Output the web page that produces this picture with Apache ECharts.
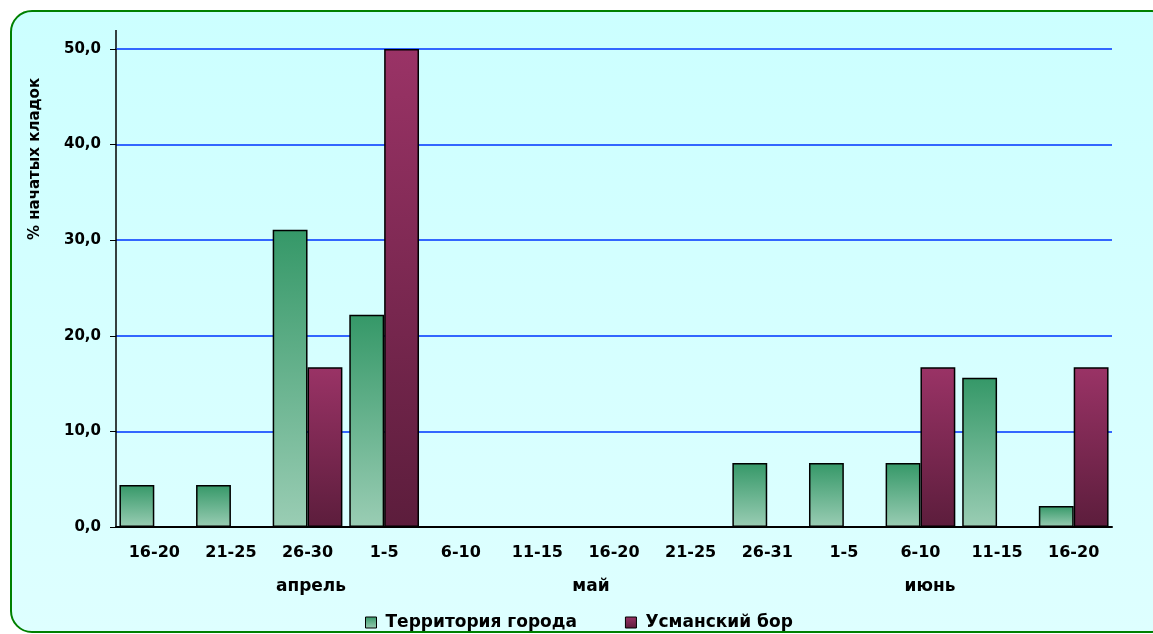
<!DOCTYPE html>
<html>
<head>
<meta charset="utf-8">
<script src="https://cdn.jsdelivr.net/npm/echarts@6/dist/echarts.min.js"></script>
<style>
  html, body { margin: 0; padding: 0; width: 1153px; height: 634px; overflow: hidden; background: #ffffff; }
  #frame { position: absolute; left: 10px; top: 10px; width: 1160px; height: 619px; border: 2px solid #008000; border-radius: 22px;
           background: linear-gradient(to bottom, #CCFFFF 0%, #DEFFFF 100%); }
  #chart { position: absolute; left: 0; top: 0; width: 1153px; height: 634px; }
</style>
</head>
<body>
<div id="frame"></div>
<div id="chart"></div>
<script>
const categories = ['16-20', '21-25', '26-30', '1-5', '6-10', '11-15', '16-20', '21-25', '26-31', '1-5', '6-10', '11-15', '16-20'];
const months = ['апрель', 'май', 'июнь'];
const seriesNames = ['Территория города', 'Усманский бор'];
const cityValues = [4.4, 4.4, 31.1, 22.2, 0, 0, 0, 0, 6.7, 6.7, 6.7, 15.6, 2.2];
const borValues = [0, 0, 16.7, 50.0, 0, 0, 0, 0, 0, 0, 16.7, 0, 16.7];
const yTicks = { min: 0, max: 50, interval: 10 };
const yAxisTitle = '% начатых кладок';

const font = '"DejaVu Sans", Verdana, sans-serif';
const chart = echarts.init(document.getElementById('chart'), null, { renderer: 'canvas' });

const greenGrad = new echarts.graphic.LinearGradient(0, 0, 0, 1, [
  { offset: 0, color: '#359868' }, { offset: 1, color: '#9ACDB4' }
]);
const purpleGrad = new echarts.graphic.LinearGradient(0, 0, 0, 1, [
  { offset: 0, color: '#9A3366' }, { offset: 1, color: '#5C1D3C' }
]);

const monthPos = [311, 591, 930];

chart.setOption({
  backgroundColor: 'transparent',
  animation: false,
  textStyle: { fontFamily: font },
  grid: { left: 116, right: 41, top: 49, bottom: 107 },
  legend: {
    data: seriesNames,
    left: 360, top: 609,
    icon: 'rect', itemWidth: 11, itemHeight: 11, itemGap: 48,
    textStyle: { fontFamily: font, fontWeight: 'bold', fontSize: 17, color: '#000', padding: [0, 0, 0, 4] },
    itemStyle: { borderColor: '#000', borderWidth: 1 }
  },
  xAxis: {
    type: 'category',
    data: categories,
    axisLine: { lineStyle: { color: '#000', width: 2 } },
    axisTick: { length: 8, lineStyle: { color: '#000', width: 1.5 } },
    axisLabel: { margin: 18, fontFamily: font, fontWeight: 'bold', fontSize: 16, color: '#000', interval: 0 }
  },
  yAxis: {
    type: 'value',
    min: yTicks.min, max: yTicks.max, interval: yTicks.interval,
    axisLine: { show: true, lineStyle: { color: '#000', width: 1.5 } },
    axisTick: { show: true, length: 6, lineStyle: { color: '#000', width: 1 } },
    axisLabel: { margin: 15, fontFamily: font, fontWeight: 'bold', fontSize: 15, color: '#000',
                 formatter: v => v.toFixed(1).replace('.', ',') },
    splitLine: { show: true, lineStyle: { color: '#3366FF', width: 2 } }
  },
  series: [
    { name: seriesNames[0], type: 'bar', data: cityValues, barGap: '0%', barCategoryGap: '9%',
      itemStyle: { color: greenGrad, borderColor: '#000', borderWidth: 1.5 } },
    { name: seriesNames[1], type: 'bar', data: borValues, barGap: '0%', barCategoryGap: '9%',
      itemStyle: { color: purpleGrad, borderColor: '#000', borderWidth: 1.5 } }
  ],
  graphic: [
    { type: 'line', shape: { x1: 116, y1: 30, x2: 116, y2: 49 }, style: { stroke: '#000', lineWidth: 1.5 }, silent: true },
    { type: 'text', x: 35, y: 159, rotation: Math.PI / 2,
      style: { text: yAxisTitle, font: 'bold 15px ' + font, fill: '#000', align: 'center', verticalAlign: 'middle' } },
    ...months.map((m, i) => ({ type: 'text', x: monthPos[i], y: 587,
      style: { text: m, font: 'bold 17px ' + font, fill: '#000', align: 'center', verticalAlign: 'middle' } }))
  ]
});
</script>
</body>
</html>
